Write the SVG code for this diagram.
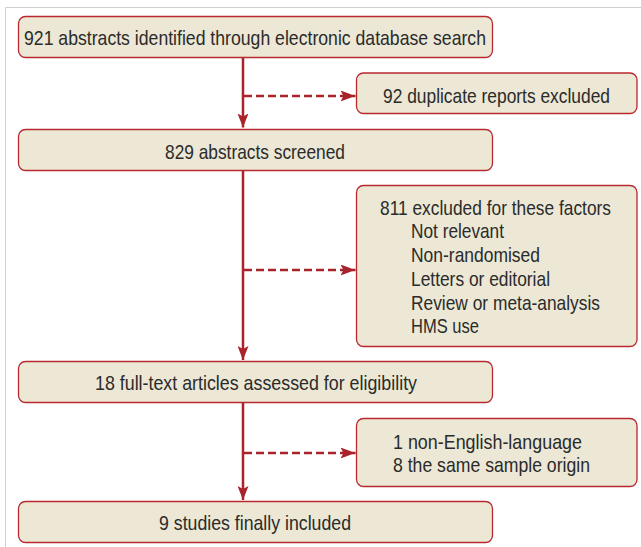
<svg xmlns="http://www.w3.org/2000/svg" width="641" height="547" viewBox="0 0 641 547">
<defs>
<style>
.box{fill:#ece8d5;stroke:#b8292f;stroke-width:1.3}
.t{font-family:"Liberation Sans",Arial,sans-serif;font-size:21px;fill:#2b2b2b}
.ln{stroke:#a8232a;stroke-width:2.5;fill:none}
.dash{stroke:#a8232a;stroke-width:2.5;fill:none;stroke-dasharray:8,4}
</style>
<marker id="ah" viewBox="0 0 15 11" refX="15" refY="5.5" markerWidth="15" markerHeight="11" markerUnits="userSpaceOnUse" orient="auto">
<path d="M0,0 L15,5.5 L0,11 L3,5.5 Z" fill="#a8232a"/>
</marker>
<marker id="ah2" viewBox="0 0 14 11" refX="14" refY="5.5" markerWidth="14" markerHeight="11" markerUnits="userSpaceOnUse" orient="auto">
<path d="M0,0 L14,5.5 L0,11 L3,5.5 Z" fill="#a8232a"/>
</marker>
</defs>
<rect x="0" y="0" width="641" height="547" fill="#ffffff"/>
<path d="M5.5,547 L5.5,7.5 L641,7.5" fill="none" stroke="#cfcfcf" stroke-width="1"/>
<g id="connectors">
<line class="ln" x1="243" y1="57" x2="243" y2="127.5" marker-end="url(#ah2)"/>
<line class="ln" x1="243" y1="171" x2="243" y2="360" marker-end="url(#ah2)"/>
<line class="ln" x1="243" y1="402" x2="243" y2="500" marker-end="url(#ah2)"/>
<line class="dash" x1="244" y1="96" x2="355.5" y2="96" marker-end="url(#ah)"/>
<line class="dash" x1="244" y1="270" x2="355.5" y2="270" marker-end="url(#ah)"/>
<line class="dash" x1="244" y1="453" x2="355.5" y2="453" marker-end="url(#ah)"/>
</g>
<g id="n1"><rect class="box" x="18.5" y="16.5" width="474" height="41" rx="7"/><text class="t" x="24" y="44.5" textLength="462" lengthAdjust="spacingAndGlyphs">921 abstracts identified through electronic database search</text></g>
<g id="n2"><rect class="box" x="356.5" y="73" width="280.5" height="40.5" rx="7"/><text class="t" x="383" y="102.5" textLength="227" lengthAdjust="spacingAndGlyphs">92 duplicate reports excluded</text></g>
<g id="n3"><rect class="box" x="18.5" y="129.5" width="474" height="41" rx="7"/><text class="t" x="165" y="158.5" textLength="180" lengthAdjust="spacingAndGlyphs">829 abstracts screened</text></g>
<g id="n4"><rect class="box" x="356.5" y="185.5" width="280.5" height="161" rx="7"/>
<text class="t" x="380" y="215" textLength="231" lengthAdjust="spacingAndGlyphs">811 excluded for these factors</text>
<text class="t" x="411" y="238" textLength="93" lengthAdjust="spacingAndGlyphs">Not relevant</text>
<text class="t" x="411" y="261.5" textLength="129" lengthAdjust="spacingAndGlyphs">Non-randomised</text>
<text class="t" x="411" y="285.5" textLength="139" lengthAdjust="spacingAndGlyphs">Letters or editorial</text>
<text class="t" x="411" y="309.5" textLength="189" lengthAdjust="spacingAndGlyphs">Review or meta-analysis</text>
<text class="t" x="411" y="332.5" textLength="68" lengthAdjust="spacingAndGlyphs">HMS use</text></g>
<g id="n5"><rect class="box" x="18.5" y="361.5" width="474" height="41" rx="7"/><text class="t" x="95" y="389.5" textLength="322" lengthAdjust="spacingAndGlyphs">18 full-text articles assessed for eligibility</text></g>
<g id="n6"><rect class="box" x="356.5" y="418.5" width="280.5" height="68" rx="7"/>
<text class="t" x="393" y="448.5" textLength="189" lengthAdjust="spacingAndGlyphs">1 non-English-language</text>
<text class="t" x="393" y="471.5" textLength="197" lengthAdjust="spacingAndGlyphs">8 the same sample origin</text></g>
<g id="n7"><rect class="box" x="18.5" y="501.5" width="474" height="41" rx="7"/><text class="t" x="159" y="529.5" textLength="192" lengthAdjust="spacingAndGlyphs">9 studies finally included</text></g>
</svg>
